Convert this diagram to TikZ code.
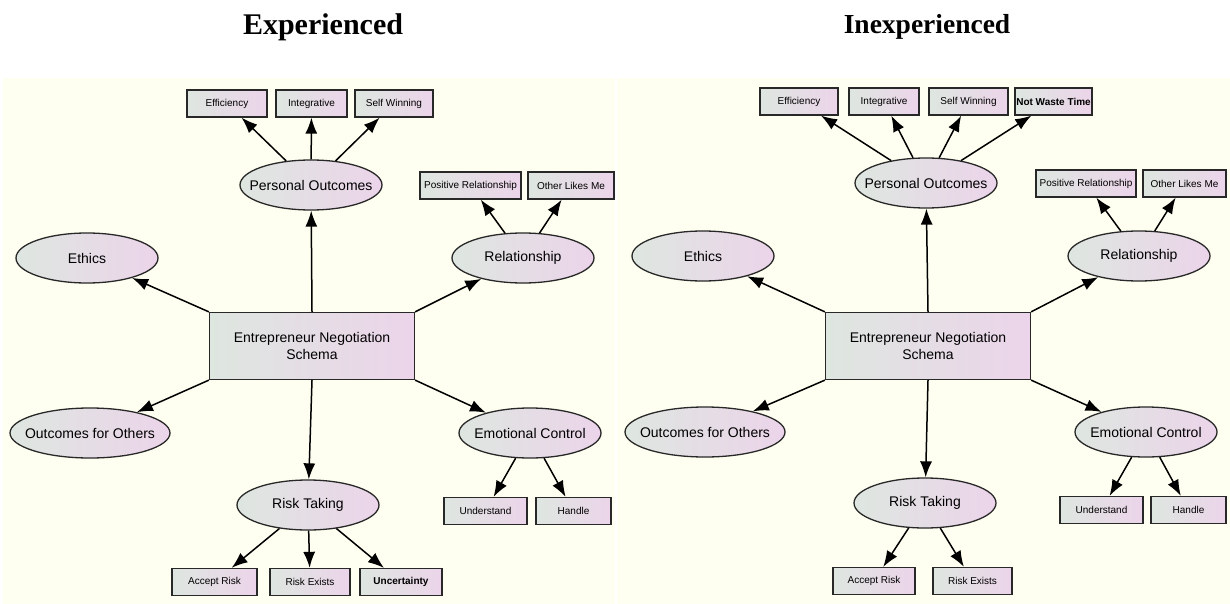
\documentclass[tikz,border=0pt]{standalone}
\usepackage{fontspec}
\setmainfont{Liberation Sans}
\newfontfamily\titlefont{Liberation Serif}
\usetikzlibrary{shapes.geometric,arrows.meta}
\definecolor{panelbg}{RGB}{254,255,240}
\definecolor{shadeL}{RGB}{222,230,224}
\definecolor{shadeR}{RGB}{236,212,234}
\definecolor{edgegray}{RGB}{40,40,40}

\begin{document}
\begin{tikzpicture}[x=1pt,y=-1pt]
\tikzstyle{concept}=[draw=edgegray,line width=1.3pt,ellipse,minimum width=142pt,minimum height=50pt,inner sep=0pt,inner xsep=-30pt,left color=shadeL,right color=shadeR,font=\fontsize{14}{16}\selectfont]
\tikzstyle{item}=[draw=edgegray,line width=1.3pt,rectangle,minimum height=27pt,inner sep=0pt,left color=shadeL,right color=shadeR,font=\fontsize{10}{12}\selectfont]
\tikzstyle{schema}=[draw=edgegray,line width=1.3pt,rectangle,minimum width=205pt,minimum height=67pt,align=center,left color=shadeL,right color=shadeR,font=\fontsize{14}{17}\selectfont]
\tikzstyle{link}=[-{Latex[length=16pt,width=12pt]},line width=1.5pt,draw=black]
\useasboundingbox (0,0) rectangle (1230,604);
\fill[white] (0,0) rectangle (1230,604);
% panels
\fill[panelbg] (3,78) rectangle (615,604);
\fill[panelbg] (617,78) rectangle (1230,604);
\node[font=\titlefont\bfseries\fontsize{30}{32}\selectfont] (titleL) at (323,27) {Experienced};
\node[font=\titlefont\bfseries\fontsize{27.5}{30}\selectfont] (titleR) at (927,27) {Inexperienced};

% experienced
\node[schema] (cbL) at (312,346) {Entrepreneur Negotiation\\Schema};
\node[concept] (poL) at (311,185) {Personal Outcomes};
\node[concept] (ethL) at (87,258) {Ethics};
\node[concept] (relL) at (523,258) {Relationship};
\node[concept,minimum width=160pt] (ooL) at (90,433) {Outcomes for Others};
\node[concept] (ecL) at (530,433) {Emotional Control};
\node[concept] (rtL) at (308,505) {Risk Taking};
\node[item,minimum width=80pt] (effL) at (227,103.5) {Efficiency};
\node[item,minimum width=71pt] (intL) at (311.5,103.5) {Integrative};
\node[item,minimum width=78pt] (swL) at (394,103.5) {Self Winning};
\node[item,minimum width=101pt] (prL) at (470.5,185.5) {Positive Relationship};
\node[item,minimum width=86pt] (olL) at (571,185.5) {Other Likes Me};
\node[item,minimum width=83pt] (unL) at (485.5,511) {Understand};
\node[item,minimum width=75pt] (haL) at (573.5,511) {Handle};
\node[item,minimum width=85pt] (arL) at (214.5,582) {Accept Risk};
\node[item,minimum width=80pt] (reL) at (310,582) {Risk Exists};
\node[item,minimum width=82pt,font=\fontsize{10}{12}\selectfont\bfseries] (ucL) at (401,582) {Uncertainty};
\draw[link] (cbL.north) -- (poL);
\draw[link] (cbL.north west) -- (ethL);
\draw[link] (cbL.north east) -- (relL);
\draw[link] (cbL.south west) -- (ooL);
\draw[link] (cbL.south east) -- (ecL);
\draw[link] (cbL.south) -- (rtL);
\draw[link] (poL) -- (effL);
\draw[link] (poL) -- (intL);
\draw[link] (poL) -- (swL);
\draw[link] (relL) -- (prL);
\draw[link] (relL) -- (olL);
\draw[link] (ecL) -- (unL);
\draw[link] (ecL) -- (haL);
\draw[link] (rtL) -- (arL);
\draw[link] (rtL) -- (reL);
\draw[link] (rtL) -- (ucL);

% inexperienced
\node[schema] (cbR) at (928,346) {Entrepreneur Negotiation\\Schema};
\node[concept] (poR) at (926,183) {Personal Outcomes};
\node[concept] (ethR) at (703,256) {Ethics};
\node[concept] (relR) at (1139,256) {Relationship};
\node[concept,minimum width=160pt] (ooR) at (705,432) {Outcomes for Others};
\node[concept] (ecR) at (1146,432) {Emotional Control};
\node[concept] (rtR) at (925,503) {Risk Taking};
\node[item,minimum width=78pt] (effR) at (799,101.5) {Efficiency};
\node[item,minimum width=70pt] (intR) at (884,101.5) {Integrative};
\node[item,minimum width=79pt] (swR) at (968.5,101.5) {Self Winning};
\node[item,minimum width=77pt,font=\fontsize{10}{12}\selectfont\bfseries] (nwR) at (1053.5,101.5) {Not Waste Time};
\node[item,minimum width=100pt] (prR) at (1086,183.5) {Positive Relationship};
\node[item,minimum width=83pt] (olR) at (1184.5,183.5) {Other Likes Me};
\node[item,minimum width=83pt] (unR) at (1101.5,510) {Understand};
\node[item,minimum width=75pt] (haR) at (1188.5,510) {Handle};
\node[item,minimum width=82pt] (arR) at (874,581) {Accept Risk};
\node[item,minimum width=79pt] (reR) at (972.5,581) {Risk Exists};
\draw[link] (cbR.north) -- (poR);
\draw[link] (cbR.north west) -- (ethR);
\draw[link] (cbR.north east) -- (relR);
\draw[link] (cbR.south west) -- (ooR);
\draw[link] (cbR.south east) -- (ecR);
\draw[link] (cbR.south) -- (rtR);
\draw[link] (poR) -- (effR);
\draw[link] (poR) -- (intR);
\draw[link] (poR) -- (swR);
\draw[link] (poR) -- (nwR);
\draw[link] (relR) -- (prR);
\draw[link] (relR) -- (olR);
\draw[link] (ecR) -- (unR);
\draw[link] (ecR) -- (haR);
\draw[link] (rtR) -- (arR);
\draw[link] (rtR) -- (reR);
\end{tikzpicture}
\end{document}
